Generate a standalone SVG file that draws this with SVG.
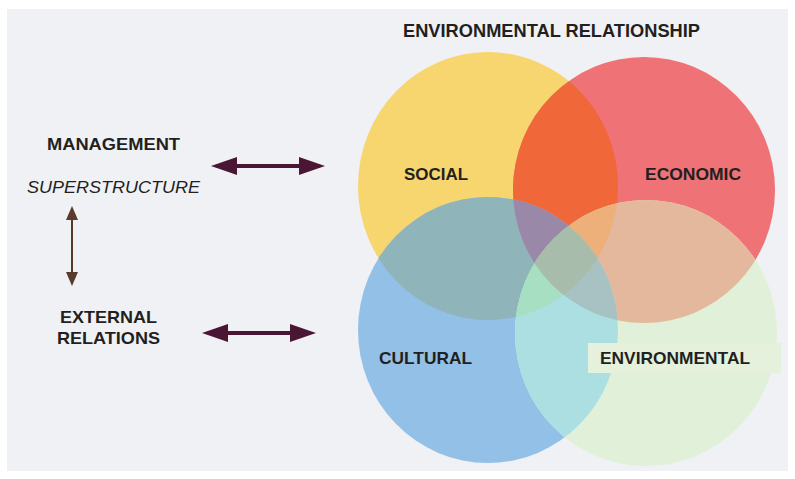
<svg xmlns="http://www.w3.org/2000/svg" xmlns:xlink="http://www.w3.org/1999/xlink" width="795" height="479" viewBox="0 0 795 479">
  <style>
    .lbl { font-family: "Liberation Sans", Arial, sans-serif; font-weight: bold; fill: #231f20; }
    .ital { font-family: "Liberation Sans", Arial, sans-serif; font-style: italic; fill: #231f20; }
    .shaft { fill: none; stroke: #4b1634; stroke-width: 4; }
    .shaft-v { fill: none; stroke: #5a3a2b; stroke-width: 2; }
  </style>
  <defs>
    <!-- the four circles of the diagram -->
    <ellipse id="eY" cx="488" cy="186" rx="130" ry="134"/>
    <ellipse id="eR" cx="644" cy="190" rx="131" ry="133"/>
    <ellipse id="eB" cx="488" cy="330" rx="130" ry="133"/>
    <ellipse id="eG" cx="646" cy="333" rx="131" ry="133"/>
    <clipPath id="cY"><use xlink:href="#eY"/></clipPath>
    <clipPath id="cR"><use xlink:href="#eR"/></clipPath>
    <clipPath id="cB"><use xlink:href="#eB"/></clipPath>
    <clipPath id="cG"><use xlink:href="#eG"/></clipPath>
    <marker id="head" viewBox="0 0 26 18" refX="0" refY="9" markerWidth="26" markerHeight="18" markerUnits="userSpaceOnUse" orient="auto-start-reverse">
      <path d="M0,0 L26,9 L0,18 Z" fill="#4b1634"/>
    </marker>
    <marker id="headV" viewBox="0 0 14 12" refX="0" refY="6" markerWidth="14" markerHeight="12" markerUnits="userSpaceOnUse" orient="auto-start-reverse">
      <path d="M0,0 L14,6 L0,12 Z" fill="#5a3a2b"/>
    </marker>
  </defs>

  <!-- page -->
  <rect x="0" y="0" width="795" height="479" fill="#ffffff"/>
  <rect x="7" y="9" width="781" height="462" fill="#f0f1f5"/>

  <!-- overlapping circles, each overlap area painted in its own tint -->
  <g id="venn">
    <g id="node-social"><use xlink:href="#eY" fill="#f7d56f"/></g>
    <g id="node-economic"><use xlink:href="#eR" fill="#ef7276"/></g>
    <g id="node-cultural"><use xlink:href="#eB" fill="#93c0e7"/></g>
    <g id="node-environmental"><use xlink:href="#eG" fill="#e1f0d8"/></g>

    <!-- pairs -->
    <g clip-path="url(#cY)"><use xlink:href="#eR" fill="#f0683a"/></g>
    <g clip-path="url(#cY)"><use xlink:href="#eB" fill="#8fb4b9"/></g>
    <g clip-path="url(#cY)"><use xlink:href="#eG" fill="#c9d9a4"/></g>
    <g clip-path="url(#cR)"><use xlink:href="#eB" fill="#a9a0b8"/></g>
    <g clip-path="url(#cR)"><use xlink:href="#eG" fill="#e3b89c"/></g>
    <g clip-path="url(#cB)"><use xlink:href="#eG" fill="#abdfe2"/></g>

    <!-- triples -->
    <g clip-path="url(#cY)"><g clip-path="url(#cR)"><use xlink:href="#eB" fill="#9a88a8"/></g></g>
    <g clip-path="url(#cY)"><g clip-path="url(#cR)"><use xlink:href="#eG" fill="#eeb07b"/></g></g>
    <g clip-path="url(#cY)"><g clip-path="url(#cB)"><use xlink:href="#eG" fill="#a7dfc3"/></g></g>
    <g clip-path="url(#cR)"><g clip-path="url(#cB)"><use xlink:href="#eG" fill="#a8c1c3"/></g></g>

    <!-- centre -->
    <g clip-path="url(#cY)"><g clip-path="url(#cR)"><g clip-path="url(#cB)"><use xlink:href="#eG" fill="#a8bcab"/></g></g></g>
  </g>

  <!-- circle labels -->
  <g id="label-social"><text class="lbl" x="404" y="180" font-size="17" textLength="64" lengthAdjust="spacingAndGlyphs">SOCIAL</text></g>
  <g id="label-economic"><text class="lbl" x="645" y="180" font-size="17" textLength="96" lengthAdjust="spacingAndGlyphs">ECONOMIC</text></g>
  <g id="label-cultural"><text class="lbl" x="379" y="364" font-size="17" textLength="93" lengthAdjust="spacingAndGlyphs">CULTURAL</text></g>
  <g id="label-environmental">
    <rect x="588" y="343" width="193" height="30" fill="#e5f1dd"/>
    <text class="lbl" x="600" y="364" font-size="17" textLength="150" lengthAdjust="spacingAndGlyphs">ENVIRONMENTAL</text>
  </g>

  <!-- title -->
  <g id="title"><text class="lbl" x="403" y="37" font-size="18" textLength="297" lengthAdjust="spacingAndGlyphs">ENVIRONMENTAL RELATIONSHIP</text></g>

  <!-- left-hand blocks -->
  <g id="node-management"><text class="lbl" x="47" y="150" font-size="17" textLength="133" lengthAdjust="spacingAndGlyphs">MANAGEMENT</text></g>
  <g id="node-superstructure"><text class="ital" x="27" y="193" font-size="17" textLength="173" lengthAdjust="spacingAndGlyphs">SUPERSTRUCTURE</text></g>
  <g id="node-external">
    <text class="lbl" x="60" y="323" font-size="17" textLength="97" lengthAdjust="spacingAndGlyphs">EXTERNAL</text>
    <text class="lbl" x="57" y="344" font-size="17" textLength="103" lengthAdjust="spacingAndGlyphs">RELATIONS</text>
  </g>

  <!-- connectors -->
  <g id="connectors">
    <path class="shaft" d="M237,166 H299" marker-start="url(#head)" marker-end="url(#head)"/>
    <path class="shaft" d="M228,333 H290" marker-start="url(#head)" marker-end="url(#head)"/>
    <path class="shaft-v" d="M72,220 V272" marker-start="url(#headV)" marker-end="url(#headV)"/>
  </g>
</svg>
